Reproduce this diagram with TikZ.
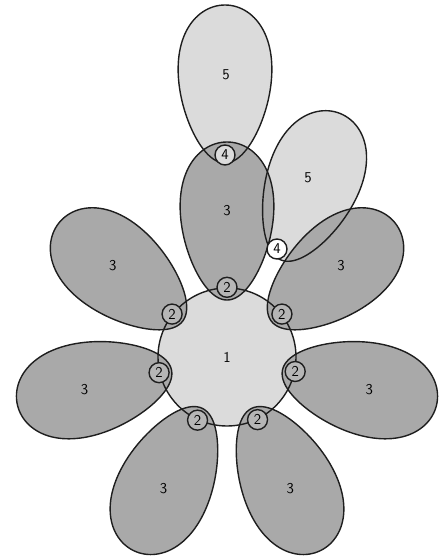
\documentclass[tikz,border=0pt]{standalone}
\usetikzlibrary{positioning}
\definecolor{leaf}{HTML}{A9A9A9}
\definecolor{pale}{HTML}{DBDBDB}
\definecolor{ink}{HTML}{1E1E1E}
\tikzset{egg/.style={insert path={plot[domain=0:360,samples=121,variable=\t]
  ({46*sin(\t)*(1-0.2*cos(\t))},{79*(1-cos(\t))}) -- cycle}}}

\begin{document}
\begin{tikzpicture}[x=1pt,y=1pt,line width=1.4pt,font=\sffamily\fontsize{15}{15}\selectfont,
    joint/.style={circle,draw=ink,fill=leaf!85!white,inner sep=0pt,minimum size=20pt}]
  \useasboundingbox (0,0) rectangle (444,558);
  \fill[pale] (227,201) circle (69);
  % light leaves (5) go under the grey ones
  \fill[pale,shift={(225,395)},egg];
  \fill[pale,shift={(281,298)},rotate=-22,egg];
  \foreach \i in {0,...,6}{
    \pgfmathsetmacro\a{90-\i*360/7}
    \fill[leaf,shift={(227,201)},rotate=\a-90,shift={(0,57)},egg];}
  % outlines on top of all fills
  \draw[ink,shift={(225,395)},egg];
  \draw[ink,shift={(281,298)},rotate=-22,egg];
  \foreach \i in {0,...,6}{
    \pgfmathsetmacro\a{90-\i*360/7}
    \draw[ink,shift={(227,201)},rotate=\a-90,shift={(0,57)},egg];}
  \node[circle,draw=ink,minimum size=138pt,inner sep=0pt] (core) at (227,201) {1};
  \foreach \i in {0,...,6}{
    \pgfmathsetmacro\a{90-\i*360/7}
    \node[joint] (j\i) at (core.\a) {2};
    \path (core.center) ++(\a:146) node (p\i) {3};}
  \node[joint,fill=pale] (k1) at (225,403) {4};
  \node[joint,fill=white] (k2) at (277,309) {4};
  \node (f1) at (226,483) {5};
  \node (f2) at (308,380) {5};
\end{tikzpicture}
\end{document}
